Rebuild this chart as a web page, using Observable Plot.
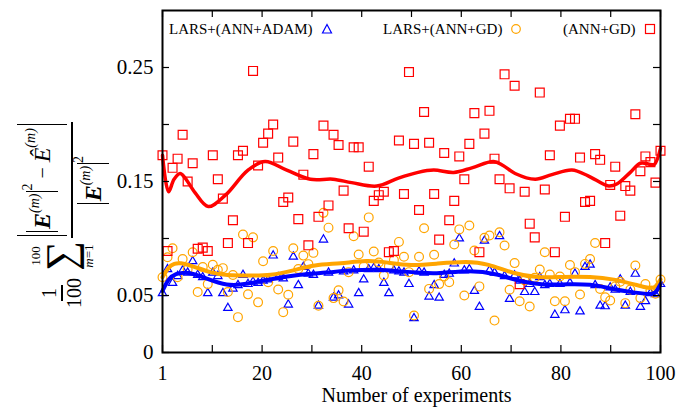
<!DOCTYPE html>
<html><head><meta charset="utf-8">
<script src="https://cdn.jsdelivr.net/npm/d3@7"></script>
<script src="https://cdn.jsdelivr.net/npm/@observablehq/plot@0.6"></script>
<style>
body{margin:0;background:#fff;}
#wrap{position:relative;width:676px;height:411px;overflow:hidden;font-family:"Liberation Serif","Times New Roman",serif;color:#000;background:#fff;}
#chart{position:absolute;left:0;top:0;}
#chart svg text{font-family:"Liberation Serif","Times New Roman",serif;}
.lg{position:absolute;top:19px;font-size:15px;line-height:20px;white-space:nowrap;display:flex;align-items:center;font-family:"Liberation Serif",serif;}
.lg svg{margin-left:8px;}
#ylab{position:absolute;left:-58px;top:136px;width:240px;height:110px;transform:rotate(-90deg);transform-origin:center;display:flex;align-items:center;font-family:"Liberation Serif",serif;font-size:20px;}
.frac{display:inline-flex;flex-direction:column;align-items:center;}
.frac .num{border-bottom:2px solid #000;padding:0 3px;display:flex;align-items:center;justify-content:center;}
.frac .den{display:flex;align-items:center;justify-content:center;padding:0 3px;}
.sum{display:inline-flex;flex-direction:column;align-items:center;margin:0 3px 0 4px;line-height:1;}
.sum .lim{font-size:13px;}
.sum .sig{font-size:42px;line-height:0.95;}
.absO{display:inline-flex;align-items:center;border-left:1.5px solid #000;border-right:1.5px solid #000;padding:9px 3px;}
.absI{display:inline-flex;align-items:flex-start;border-left:1.5px solid #000;border-right:1.5px solid #000;padding:4px 2px;}
.E{font-weight:bold;font-style:italic;font-size:24px;line-height:1;}
.Eh{font-style:italic;font-size:24px;line-height:1;}
.sp{font-size:14px;font-style:italic;align-self:flex-start;margin-top:-3px;}
.sq{font-size:14px;align-self:flex-start;margin-top:-6px;}
</style></head><body>
<div id="wrap"><div id="chart"></div>
<div id="ylab">
  <span class="frac"><span class="num">1</span><span class="den">100</span></span>
  <span class="sum"><span class="lim">100</span><span class="sig">∑</span><span class="lim"><i>m</i>=1</span></span>
  <span class="frac"><span class="num" style="padding:2px 2px 4px 2px"><span class="absO"><span class="absI"><span class="E">E</span><span class="sp">(m)</span></span><span class="sq">2</span>&nbsp;−&nbsp;<span class="Eh">Ê</span><span class="sp">(m)</span></span></span><span class="den" style="padding-top:4px"><span class="absI"><span class="E">E</span><span class="sp">(m)</span></span><span class="sq">2</span></span></span>
</div>
<div class="lg" style="left:169px">LARS+(ANN+ADAM)<svg width="12" height="12"><path d="M6,1.5 L10.5,10 L1.5,10 Z" fill="none" stroke="#0000ff" stroke-width="1.2"/></svg></div>
<div class="lg" style="left:383px">LARS+(ANN+GD)<svg width="12" height="12"><circle cx="6" cy="6" r="4.3" fill="none" stroke="#ffa500" stroke-width="1.2"/></svg></div>
<div class="lg" style="left:563px">(ANN+GD)<svg width="12" height="12"><rect x="1.5" y="1.5" width="9" height="9" fill="none" stroke="#ff0000" stroke-width="1.2"/></svg></div>
</div>
<script>
// experiment index
const experiments = d3.range(1, 101);
// LARS+(ANN+ADAM) — blue triangles
const larsAdam = [
0.052,0.073,0.061,0.067,0.072,0.070,0.080,0.068,0.066,0.052,
0.070,0.067,0.052,0.039,0.056,0.059,0.068,0.060,0.062,0.061,
0.063,0.064,0.085,0.066,0.065,0.042,0.084,0.059,0.075,0.069,
0.068,0.041,0.099,0.070,0.048,0.050,0.071,0.042,0.072,0.052,
0.064,0.073,0.074,0.073,0.061,0.052,0.072,0.071,0.070,0.060,
0.030,0.071,0.070,0.049,0.059,0.048,0.068,0.069,0.078,0.100,
0.072,0.073,0.054,0.040,0.098,0.072,0.070,0.102,0.067,0.047,
0.0675,0.063,0.053,0.060,0.053,0.066,0.059,0.060,0.033,0.060,
0.037,0.061,0.069,0.036,0.075,0.077,0.059,0.041,0.0405,0.057,
0.055,0.064,0.041,0.053,0.069,0.040,0.045,0.052,0.051,0.060];
// LARS+(ANN+GD) — orange circles
const larsGd = [
0.066,0.0836,0.0915,0.066,0.082,0.073,0.088,0.053,0.075,0.060,
0.077,0.0725,0.074,0.053,0.068,0.031,0.1035,0.051,0.101,0.044,
0.080,0.0617,0.089,0.0553,0.0354,0.0506,0.0915,0.0733,0.085,0.0775,
0.0874,0.041,0.1225,0.1095,0.0477,0.0545,0.0447,0.0705,0.102,0.086,
0.0754,0.1185,0.0886,0.079,0.0675,0.0757,0.081,0.097,0.084,0.0705,
0.0325,0.084,0.109,0.0558,0.0857,0.060,0.0667,0.0617,0.0947,0.108,
0.050,0.1114,0.0895,0.058,0.1006,0.1026,0.028,0.1055,0.0939,0.055,
0.0784,0.045,0.0632,0.0404,0.0655,0.0728,0.088,0.0684,0.045,0.0667,
0.045,0.0768,0.0705,0.0509,0.0777,0.082,0.096,0.0558,0.0485,0.0456,
0.058,0.062,0.0433,0.0553,0.0763,0.0477,0.060,0.0544,0.0515,0.064];
// (ANN+GD) — red squares
const annGd = [
0.173,0.089,0.162,0.170,0.191,0.150,0.166,0.091,0.092,0.089,
0.173,0.152,0.135,0.096,0.116,0.173,0.177,0.096,0.247,0.164,
0.184,0.192,0.200,0.171,0.132,0.136,0.185,0.117,0.156,0.094,
0.174,0.119,0.199,0.129,0.191,0.182,0.142,0.109,0.180,0.180,
0.106,0.163,0.133,0.138,0.141,0.088,0.089,0.186,0.139,0.246,
0.183,0.125,0.211,0.184,0.139,0.099,0.175,0.116,0.133,0.172,
0.152,0.183,0.210,0.088,0.192,0.212,0.170,0.152,0.244,0.144,
0.234,0.060,0.141,0.113,0.101,0.228,0.143,0.173,0.088,0.199,
0.119,0.205,0.205,0.171,0.132,0.133,0.174,0.169,0.096,0.147,
0.163,0.120,0.146,0.142,0.209,0.159,0.172,0.167,0.149,0.177];
// smoothed trend curves
const trendRedX = [1,2.2,3.3,4.5,5.5,7.5,10.1,13.5,18,21.4,25.7,30.4,34.9,38.6,43.6,47.9,51.8,54.9,58.9,62.5,66.8,68.7,71.1,75.1,78.4,82.4,85.6,89.7,91.4,94,96,98,98.8,100];
const trendRedY = [0.173,0.141,0.152,0.157,0.153,0.140,0.128,0.138,0.160,0.1675,0.160,0.152,0.152,0.149,0.146,0.153,0.158,0.160,0.158,0.162,0.1675,0.164,0.157,0.152,0.156,0.160,0.155,0.146,0.148,0.158,0.166,0.165,0.165,0.179];
const trendOrangeX = [1,2.6,4.6,7.2,10.5,13.9,17.8,22.5,27.1,31.1,36.4,41.7,45.7,50.3,55.6,61.6,65.6,70.8,75.5,80.8,86.1,90.7,95.4,98,99,100];
const trendOrangeY = [0.066,0.078,0.079,0.0755,0.070,0.0675,0.0675,0.0675,0.072,0.077,0.078,0.081,0.079,0.076,0.078,0.080,0.078,0.069,0.0655,0.0665,0.0665,0.0645,0.059,0.056,0.057,0.064];
const trendBlueX = [1,2.2,3.5,6,9.2,13.9,17.8,23.1,28.4,33.7,37.7,44.3,48.3,52.3,55.6,62.2,67.5,72.2,76.8,81.5,86.1,90.1,94,98,99,100];
const trendBlueY = [0.054,0.065,0.069,0.071,0.066,0.058,0.060,0.065,0.0685,0.070,0.072,0.073,0.071,0.070,0.069,0.0725,0.069,0.062,0.059,0.060,0.060,0.056,0.053,0.051,0.0515,0.060];
// ticks
const xTickValues = [1,10.9,20.8,30.7,40.6,50.5,60.4,70.3,80.2,90.1,100];
const xTickLabels = ["1","","20","","40","","60","","80","","100"];
const yTickValues = [0,0.05,0.1,0.15,0.2,0.25];
const yTickLabels = ["0","0.05","","0.15","","0.25"];

const xLab = new Map(xTickValues.map((v,i)=>[v,xTickLabels[i]]));
const yLab = new Map(yTickValues.map((v,i)=>[v,yTickLabels[i]]));
const pts = (arr)=>experiments.map((x,i)=>({x, y: arr[i]}));
const crv = (xs,ys)=>xs.map((x,i)=>({x, y: ys[i]}));

const ML=162, MR=16, MT=10, MB=59, W=676, H=411;
const fw = W-ML-MR, fh = H-MT-MB, tl = 7;
const serif = '"Liberation Serif", "Times New Roman", serif';

const chart = Plot.plot({
  width: W, height: H,
  marginLeft: ML, marginRight: MR, marginTop: MT, marginBottom: MB,
  x: {domain: [1,100]},
  y: {domain: [0,0.3]},
  style: {fontFamily: serif, fontSize: "20px", color: "#000", background: "#fff"},
  marks: [
    Plot.dot(pts(larsAdam), {x:"x", y:"y", symbol:"triangle", r:3.1, stroke:"#0000ff", strokeWidth:1.2, fill:"none"}),
    Plot.dot(pts(larsGd), {x:"x", y:"y", symbol:"circle", r:4.4, stroke:"#ffa500", strokeWidth:1.2, fill:"none"}),
    Plot.dot(pts(annGd), {x:"x", y:"y", symbol:"square", r:5, stroke:"#ff0000", strokeWidth:1.2, fill:"none"}),
    Plot.line(crv(trendRedX,trendRedY), {x:"x", y:"y", stroke:"#ff0000", strokeWidth:3.5, curve:"catmull-rom"}),
    Plot.line(crv(trendOrangeX,trendOrangeY), {x:"x", y:"y", stroke:"#ffa500", strokeWidth:4, curve:"basis"}),
    Plot.line(crv(trendBlueX,trendBlueY), {x:"x", y:"y", stroke:"#0000ff", strokeWidth:4, curve:"basis"}),
    Plot.tickX(xTickValues, {x: d=>d, insetTop: fh-tl, stroke:"#000", strokeWidth:1.2}),
    Plot.tickX(xTickValues, {x: d=>d, insetBottom: fh-tl, stroke:"#000", strokeWidth:1.2}),
    Plot.tickY(yTickValues, {y: d=>d, insetRight: fw-tl, stroke:"#000", strokeWidth:1.2}),
    Plot.tickY(yTickValues, {y: d=>d, insetLeft: fw-tl, stroke:"#000", strokeWidth:1.2}),
    Plot.axisX(xTickValues, {tickSize:0, tickPadding:13, tickFormat: d=>xLab.get(d), fontSize:20, fontFamily: serif, label:null}),
    Plot.axisY(yTickValues, {tickSize:0, tickPadding:9, tickFormat: d=>yLab.get(d), fontSize:21, fontFamily: serif, label:null}),
    Plot.text(["Number of experiments"], {frameAnchor:"bottom", dy:49, dx:5, fontSize:20, fontFamily: serif, text:d=>d}),
    Plot.frame({stroke:"#000", strokeWidth:2})
  ]
});
document.getElementById("chart").appendChild(chart);
</script>
</body></html>
